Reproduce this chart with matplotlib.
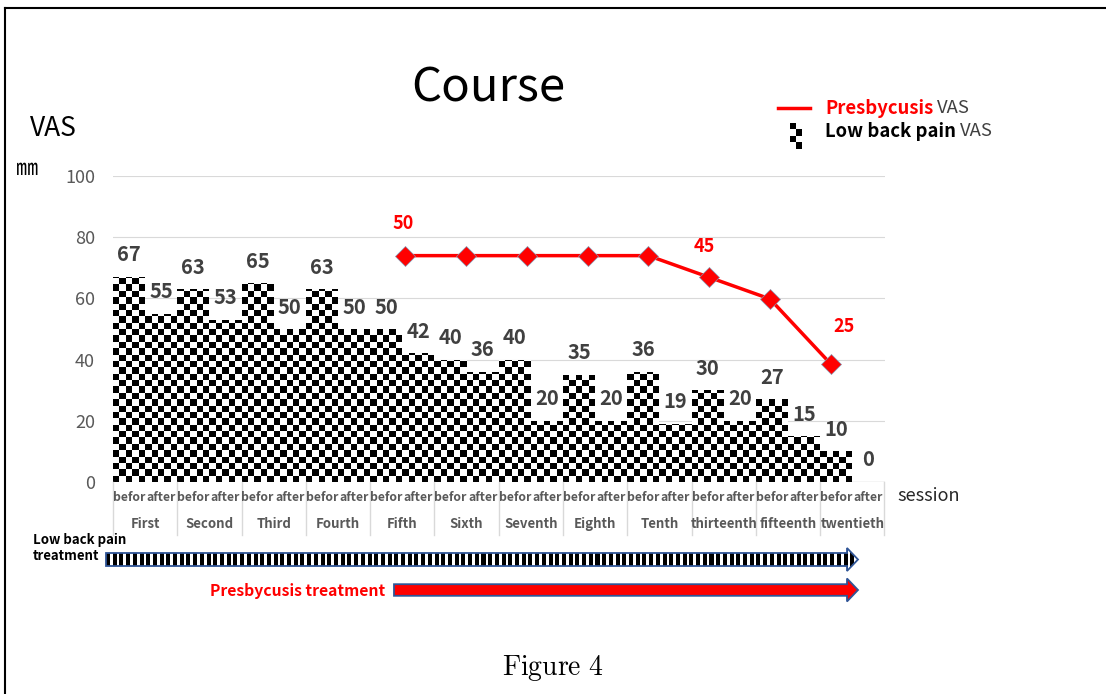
import numpy as np
import matplotlib
matplotlib.use('Agg')
import matplotlib.pyplot as plt
import matplotlib.transforms as mtransforms
from matplotlib.path import Path
from matplotlib.patches import PathPatch, Polygon

plt.rcParams['font.family'] = ['Noto Sans CJK JP', 'DejaVu Sans']
plt.rcParams['mathtext.fontset'] = 'cm'

# data
sessions = ['First', 'Second', 'Third', 'Fourth', 'Fifth', 'Sixth', 'Seventh',
            'Eighth', 'Tenth', 'thirteenth', 'fifteenth', 'twentieth']
phases = ['befor', 'after']
lbp_before = [67, 63, 65, 63, 50, 40, 40, 35, 36, 30, 27, 10]
lbp_after = [55, 53, 50, 50, 42, 36, 20, 20, 19, 20, 15, 0]
presb_sessions = ['Fifth', 'Sixth', 'Seventh', 'Eighth', 'Tenth',
                  'thirteenth', 'fifteenth', 'twentieth']
presb_vas = [50, 50, 50, 50, 50, 45, 40, 25]
yticks = [0, 20, 40, 60, 80, 100]

lbp = np.ravel(np.column_stack([lbp_before, lbp_after]))
xb = np.arange(len(lbp))

W, H = 1106, 694
fig = plt.figure(figsize=(W / 100, H / 100), dpi=100)


def rect(x0, y0, x1, y1):
    return [x0 / W, 1 - y1 / H, (x1 - x0) / W, (y1 - y0) / H]


# background / annotation layer in pixel coords
bg = fig.add_axes([0, 0, 1, 1], zorder=0)
bg.axis('off')

ax = fig.add_axes(rect(113, 176, 884.5, 482), zorder=1)
ax.patch.set_visible(False)

# bars with checkerboard fill
bars = ax.bar(xb, lbp, width=1.0, color='none', edgecolor='none')
paths = [b.get_path().transformed(b.get_patch_transform()) for b in bars]
clip = PathPatch(Path.make_compound_path(*paths), transform=ax.transData,
                 facecolor='none', edgecolor='none')
ax.add_patch(clip)
ny, nx = 48, 120
checker = (np.add.outer(np.arange(ny), np.arange(nx)) % 2).astype(float)
gx = np.linspace(-0.5, len(lbp) - 0.5, nx + 1)
gy = np.linspace(0, 100, ny + 1)
mesh = ax.pcolormesh(gx, gy, checker, cmap='gray', vmin=0, vmax=1,
                     antialiased=False, zorder=2)
mesh.set_clip_path(clip)

for x, v in zip(xb, lbp):
    ax.annotate(str(v), (x, v), xytext=(0, 22), textcoords='offset pixels',
                ha='center', va='center', fontsize=14.5, fontweight='bold',
                color='#404040', zorder=3)

ax.set_xlim(-0.5, len(lbp) - 0.5)
ax.set_ylim(0, 100)
ax.set_yticks(yticks)
ax.set_xticks([])
ax.tick_params(axis='y', length=0, pad=13, labelsize=13, labelcolor='#595959')
ax.grid(axis='y', color='#d9d9d9', lw=0.8)
ax.set_axisbelow(True)
for s in ax.spines.values():
    s.set_visible(False)
ax.axhline(0, color='#d9d9d9', lw=1, zorder=1)

# two-level category axis
trans = mtransforms.blended_transform_factory(ax.transData, ax.transAxes)
for i in range(len(lbp)):
    ax.text(i, -0.052, phases[i % 2], transform=trans, ha='center', va='center',
            fontsize=8.8, fontweight='bold', color='#595959')
for k, name in enumerate(sessions):
    ax.text(2 * k + 0.5, -0.137, name, transform=trans, ha='center', va='center',
            fontsize=9.5, fontweight='bold', color='#595959')
for k in range(len(sessions) + 1):
    ax.plot([2 * k - 0.5] * 2, [0, -0.173], transform=trans, clip_on=False,
            color='#d9d9d9', lw=1)

# presbycusis line (secondary axes)
ax2 = fig.add_axes(rect(113, 176, 884.5, 482), zorder=2)
ax2.patch.set_visible(False)
ax2.axis('off')
xl = np.arange(len(presb_vas))
ax2.plot(xl, presb_vas, color='#ff0000', lw=2.5, marker='D', ms=10,
         mfc='#ff0000', mec='#8497b0', mew=0.5)
ax2.set_xlim(-4.806, 7.885)
ax2.set_ylim(-2.3, 68.4)
for i, dx, dy in [(0, -2, 32), (5, -5, 31), (7, 13, 37)]:
    ax2.annotate(str(presb_vas[i]), (xl[i], presb_vas[i]), xytext=(dx, dy),
                 textcoords='offset pixels', ha='center', va='center',
                 fontsize=13, fontweight='bold', color='#ff0000')

# texts
bg.text(488, 88, 'Course', fontsize=34, ha='center', va='center', color='black')
bg.text(30, 128, 'VAS', fontsize=19, ha='left', va='center', color='black')
bg.text(16, 168, '㎜', fontsize=16, ha='left', va='center', color='black')
bg.text(897, 496, 'session', fontsize=13, ha='left', va='center', color='#262626')
bg.text(33, 548, 'Low back pain\ntreatment', fontsize=9.5, fontweight='bold',
        ha='left', va='center', linespacing=1.2, color='black')
bg.text(385, 591, 'Presbycusis treatment', fontsize=11.3, fontweight='bold',
        ha='right', va='center', color='#ff0000')
bg.text(553, 668, r'$\mathrm{Figure\ 4}$', fontsize=20, ha='center', va='center')

# legend
bg.plot([778, 810], [108, 108], color='#ff0000', lw=2.5)
t1 = bg.text(825, 108, 'Presbycusis', fontsize=13.3, fontweight='bold',
             color='#ff0000', va='center', ha='left')
bg.annotate('VAS', xy=(1, 0.5), xycoords=t1, xytext=(4, 0),
            textcoords='offset pixels', fontsize=13.3, color='#404040',
            va='center', ha='left')
t2 = bg.text(825, 131, 'Low back pain', fontsize=13.3, fontweight='bold',
             color='black', va='center', ha='left')
bg.annotate('VAS', xy=(1, 0.5), xycoords=t2, xytext=(4, 0),
            textcoords='offset pixels', fontsize=13.3, color='#404040',
            va='center', ha='left')
icon = np.array([[0, 1], [1, 0], [0, 1], [1, 0]], dtype=float)
bg.imshow(icon, cmap='gray', interpolation='nearest', aspect='auto',
          extent=(790, 802, 149, 123))

# treatment arrows
def arrow_poly(x0, x1, yc, body, head, hl=11):
    return [(x0, yc - body), (x1 - hl, yc - body), (x1 - hl, yc - head), (x1, yc),
            (x1 - hl, yc + head), (x1 - hl, yc + body), (x0, yc + body)]


lb_arrow = Polygon(arrow_poly(106, 858, 559.5, 6.5, 11.5), closed=True,
                   facecolor='none', edgecolor='#2f5597', lw=1.3, zorder=3)
bg.add_patch(lb_arrow)
stripes = np.tile([0, 0, 0, 1, 1], 112)[None, :].astype(float)
st = bg.imshow(stripes, cmap='gray', interpolation='nearest', aspect='auto',
               extent=(106, 106 + 112 * 6.7, 573, 546), zorder=2)
st.set_clip_path(lb_arrow)

pr_arrow = Polygon(arrow_poly(394, 858, 590, 5.8, 11.5), closed=True,
                   facecolor='#ff0000', edgecolor='#2f5597', lw=1.3, zorder=3)
bg.add_patch(pr_arrow)

# page frame
bg.plot([5, W], [8, 8], color='black', lw=1.5)
bg.plot([5, 5], [8, H], color='black', lw=1.5)

bg.set_xlim(0, W)
bg.set_ylim(H, 0)

fig.savefig('out.png', dpi=100)
